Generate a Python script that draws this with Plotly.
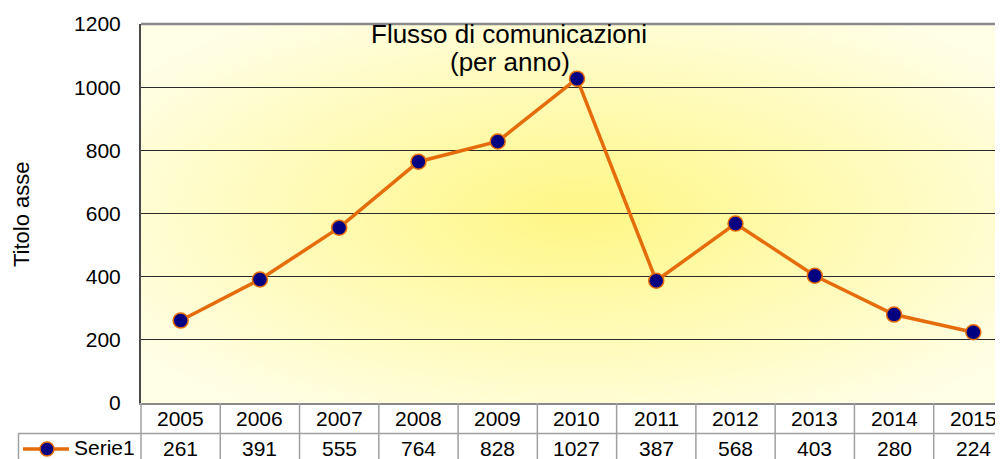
import plotly.graph_objects as go

years = ["2005", "2006", "2007", "2008", "2009", "2010", "2011", "2012", "2013", "2014", "2015"]
values = [261, 391, 555, 764, 828, 1027, 387, 568, 403, 280, 224]
series_name = "Serie1"
y_ticks = [0, 200, 400, 600, 800, 1000, 1200]
title_lines = ["Flusso di comunicazioni", "(per anno)"]
y_title = "Titolo asse"

# page body has an 8px margin, so the figure is shrunk and shifted accordingly
OFF = 8
W, H = 1003 - OFF, 459 - OFF
L, R, T, B = 141 - OFF, 0, 24 - OFF, 56
plot_w = W - L - R
plot_h = H - T - B
col_w = 79.27
xmin = -0.5
xmax = xmin + plot_w / col_w

FONT = "Liberation Sans, Arial, sans-serif"
GRID = "#a0a0a0"
ORANGE = "#E46C0A"
NAVY = "#000080"

# helpers take reference-screen pixel coordinates
def px_x(p):
    return (p - OFF - L) / plot_w

def px_y(p):
    return (H - B - (p - OFF)) / plot_h

def data_to_paper_x(v):
    return (v - xmin) / (xmax - xmin)

xs = list(range(len(years)))

fig = go.Figure()
fig.add_trace(go.Scatter(
    x=xs, y=values, mode="lines+markers", name=series_name,
    line=dict(color=ORANGE, width=3.5),
    marker=dict(color=NAVY, size=15, line=dict(color=ORANGE, width=1.5)),
    showlegend=False, cliponaxis=False,
))

svg = ("data:image/svg+xml;utf8,"
       "<svg xmlns='http://www.w3.org/2000/svg' width='100' height='100' preserveAspectRatio='none'>"
       "<defs><radialGradient id='g' cx='50%' cy='50%' r='62%'>"
       "<stop offset='0%' stop-color='%23FFF785'/>"
       "<stop offset='100%' stop-color='%23FFFEE6'/>"
       "</radialGradient></defs>"
       "<rect width='100' height='100' fill='url(%23g)'/></svg>")

fig.add_layout_image(dict(
    source=svg, xref="paper", yref="paper", x=0, y=1,
    sizex=(1013 - 141) / plot_w, sizey=1, sizing="stretch", layer="below",
))

shapes = []
shapes.append(dict(type="line", xref="paper", yref="paper", x0=0, x1=1.02, y0=1, y1=1,
                   line=dict(color="#8a8a8a", width=2.5)))
shapes.append(dict(type="line", xref="paper", yref="paper", x0=px_x(18), x1=1.02,
                   y0=px_y(433.5), y1=px_y(433.5), line=dict(color=GRID, width=1.5)))
shapes.append(dict(type="line", xref="paper", yref="paper", x0=px_x(18.5), x1=px_x(18.5),
                   y0=px_y(433.5), y1=px_y(470), line=dict(color=GRID, width=1.5)))
shapes.append(dict(type="line", xref="paper", yref="paper", x0=0, x1=0,
                   y0=0, y1=px_y(470), line=dict(color=GRID, width=1.5)))
for k in range(1, len(years) + 1):
    xp = data_to_paper_x(k - 0.5)
    shapes.append(dict(type="line", xref="paper", yref="paper", x0=xp, x1=xp,
                       y0=0, y1=px_y(470), line=dict(color=GRID, width=1.5)))

# legend key in the table's first cell
shapes.append(dict(type="line", xref="paper", yref="paper", x0=px_x(23), x1=px_x(69),
                   y0=px_y(449), y1=px_y(449), line=dict(color=ORANGE, width=3.5)))
shapes.append(dict(type="circle", xref="paper", yref="paper",
                   xsizemode="pixel", ysizemode="pixel",
                   xanchor=px_x(47), yanchor=px_y(449),
                   x0=-7, x1=7, y0=-7, y1=7,
                   fillcolor=NAVY, line=dict(color=ORANGE, width=1.5)))

annotations = []
for i, (yr, v) in enumerate(zip(years, values)):
    annotations.append(dict(x=i, y=px_y(418), xref="x", yref="paper", text=yr, showarrow=False,
                            font=dict(family=FONT, size=21, color="#000"), xanchor="center", yanchor="middle"))
    annotations.append(dict(x=i, y=px_y(448), xref="x", yref="paper", text=str(v), showarrow=False,
                            font=dict(family=FONT, size=21, color="#000"), xanchor="center", yanchor="middle"))

annotations.append(dict(x=px_x(72), y=px_y(447), xref="paper", yref="paper", text=series_name,
                        showarrow=False, font=dict(family=FONT, size=21, color="#000"),
                        xanchor="left", yanchor="middle"))

for line_text, cx, cy in zip(title_lines, [508.5, 510], [34, 62]):
    annotations.append(dict(x=px_x(cx), y=px_y(cy), xref="paper", yref="paper",
                            text=line_text, showarrow=False,
                            font=dict(family=FONT, size=26, color="#000"),
                            xanchor="center", yanchor="middle"))
annotations.append(dict(x=px_x(21), y=px_y(214), xref="paper", yref="paper",
                        text=y_title, textangle=-90, showarrow=False,
                        font=dict(family=FONT, size=22, color="#000"),
                        xanchor="center", yanchor="middle"))

fig.update_layout(
    width=W, height=H,
    margin=dict(l=L, r=R, t=T, b=B, pad=0),
    paper_bgcolor="white", plot_bgcolor="rgba(0,0,0,0)",
    font=dict(family=FONT, size=21, color="#000"),
    shapes=shapes, annotations=annotations,
    showlegend=False,
)
fig.update_xaxes(range=[xmin, xmax], showgrid=False, zeroline=False, showticklabels=False,
                 showline=True, linecolor="#8a8a8a", linewidth=2, ticks="", fixedrange=True)
fig.update_yaxes(range=[0, 1200], tickvals=y_ticks, ticktext=[str(t) for t in y_ticks],
                 showgrid=True, gridcolor="#2a2a2a", gridwidth=1, zeroline=False,
                 showline=True, linecolor="#4a4a4a", linewidth=2, ticks="",
                 ticklabelstandoff=14, tickfont=dict(family=FONT, size=21, color="#000"),
                 fixedrange=True)

fig.write_html("out.html")
